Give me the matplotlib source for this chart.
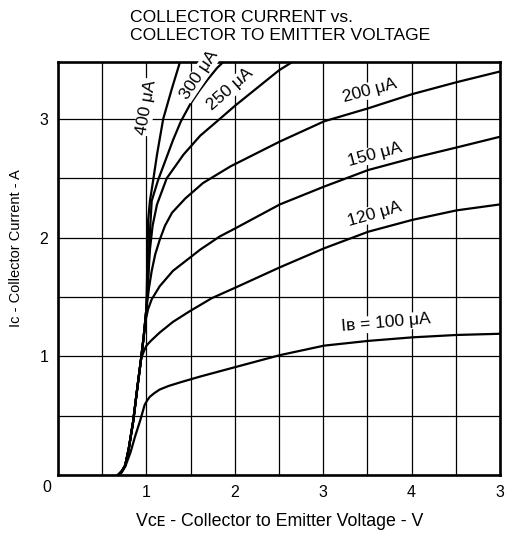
import numpy as np
import matplotlib
matplotlib.use("Agg")
import matplotlib.pyplot as plt

plt.rcParams['font.family'] = ['Liberation Sans', 'DejaVu Sans']

# collector current curves (Vce in V, Ic in A)
vce_100 = [0.68, 0.72, 0.76, 0.82, 0.87, 0.93, 0.98, 1.01, 1.04, 1.09, 1.15,
           1.25, 1.38, 1.61, 2.01, 2.51, 3.01, 3.51, 4.01, 4.51, 5.0]
ic_100 = [0.0, 0.02, 0.07, 0.19, 0.32, 0.46, 0.59, 0.63, 0.66, 0.69, 0.72,
          0.75, 0.78, 0.83, 0.91, 1.01, 1.09, 1.13, 1.16, 1.18, 1.19]

vce_120 = [0.68, 0.72, 0.76, 0.80, 0.85, 0.90, 0.94, 0.97, 1.00, 1.05, 1.15,
           1.30, 1.49, 1.74, 2.01, 2.51, 3.01, 3.51, 4.01, 4.51, 5.0]
ic_120 = [0.0, 0.03, 0.08, 0.22, 0.45, 0.75, 0.98, 1.04, 1.09, 1.13, 1.20,
          1.29, 1.38, 1.49, 1.58, 1.75, 1.91, 2.05, 2.15, 2.23, 2.28]

vce_150 = [0.68, 0.72, 0.76, 0.80, 0.85, 0.90, 0.94, 0.97, 0.99, 1.02, 1.06,
           1.15, 1.30, 1.49, 1.61, 1.83, 2.01, 2.51, 3.01, 3.51, 4.01, 4.51,
           5.0]
ic_150 = [0.0, 0.03, 0.08, 0.22, 0.45, 0.75, 0.98, 1.17, 1.30, 1.40, 1.48,
          1.59, 1.72, 1.83, 1.90, 2.01, 2.08, 2.28, 2.43, 2.57, 2.67, 2.76,
          2.85]

vce_200 = [0.68, 0.72, 0.76, 0.80, 0.85, 0.90, 0.94, 0.97, 1.00, 1.03, 1.06,
           1.10, 1.15, 1.21, 1.29, 1.44, 1.64, 1.95, 2.51, 3.01, 3.51, 4.01,
           4.51, 5.0]
ic_200 = [0.0, 0.03, 0.08, 0.22, 0.45, 0.75, 0.98, 1.17, 1.40, 1.58, 1.72,
          1.86, 1.98, 2.10, 2.21, 2.33, 2.46, 2.60, 2.81, 2.98, 3.09, 3.21,
          3.31, 3.40]

vce_250 = [0.68, 0.72, 0.76, 0.80, 0.85, 0.90, 0.94, 0.97, 1.00, 1.02, 1.04,
           1.07, 1.12, 1.23, 1.42, 1.61, 1.83, 2.0, 2.5, 2.65]
ic_250 = [0.0, 0.03, 0.08, 0.22, 0.45, 0.75, 0.98, 1.17, 1.40, 1.65, 1.90,
          2.10, 2.28, 2.50, 2.70, 2.86, 3.0, 3.11, 3.41, 3.48]

vce_300 = [0.68, 0.72, 0.76, 0.80, 0.85, 0.90, 0.94, 0.97, 1.00, 1.02, 1.04,
           1.06, 1.13, 1.23, 1.30, 1.39, 1.50, 1.60, 1.69, 1.80, 1.87]
ic_300 = [0.0, 0.03, 0.08, 0.22, 0.45, 0.75, 0.98, 1.17, 1.40, 1.70, 2.05,
          2.31, 2.48, 2.68, 2.82, 2.98, 3.13, 3.24, 3.33, 3.43, 3.48]

vce_400 = [0.68, 0.72, 0.76, 0.80, 0.85, 0.90, 0.94, 0.97, 1.00, 1.01, 1.02,
           1.04, 1.08, 1.12, 1.19, 1.29, 1.38]
ic_400 = [0.0, 0.03, 0.08, 0.22, 0.45, 0.75, 0.98, 1.17, 1.40, 1.75, 2.15,
          2.31, 2.50, 2.70, 3.0, 3.26, 3.48]

curves = [(vce_100, ic_100), (vce_120, ic_120), (vce_150, ic_150),
          (vce_200, ic_200), (vce_250, ic_250), (vce_300, ic_300),
          (vce_400, ic_400)]

# curve labels: text, position (V, A), rotation
labels = [("I\u0299 = 100 \u03bcA", 3.71, 1.28, 5),
          ("120 \u03bcA", 3.58, 2.20, 16),
          ("150 \u03bcA", 3.58, 2.70, 15),
          ("200 \u03bcA", 3.53, 3.24, 15),
          ("250 \u03bcA", 1.95, 3.25, 41),
          ("300 \u03bcA", 1.60, 3.37, 56),
          ("400 \u03bcA", 1.00, 3.10, 80)]

x_ticks = [0, 0.5, 1, 1.5, 2, 2.5, 3, 3.5, 4, 4.5, 5]
x_ticklabels = ["", "", "1", "", "2", "", "3", "", "4", "", "3"]
y_ticks = [0, 0.5, 1, 1.5, 2, 2.5, 3]
y_ticklabels = ["", "", "1", "", "2", "", "3"]

fig = plt.figure(figsize=(5.05, 5.33), dpi=100)
ax = fig.add_axes([58 / 505, 1 - 475 / 533, 442 / 505, 413 / 533])

ax.set_xlim(0, 5)
ax.set_ylim(0, 3.48)
ax.set_xticks(x_ticks)
ax.set_xticklabels(x_ticklabels)
ax.set_yticks(y_ticks)
ax.set_yticklabels(y_ticklabels)
ax.tick_params(length=0, labelsize=11.5, pad=7)
ax.grid(True, color="black", lw=0.9)
ax.set_axisbelow(True)
for s in ax.spines.values():
    s.set_linewidth(1.9)

for vce, ic in curves:
    ax.plot(vce, ic, color="black", lw=1.6, solid_joinstyle="round")

for txt, x, y, rot in labels:
    ax.text(x, y, txt, fontsize=12.5, rotation=rot, ha="center", va="center",
            rotation_mode="anchor", clip_on=False,
            bbox=dict(boxstyle="square,pad=0.05", fc="white", ec="none"))

# corner zero label
ax.text(-0.13, -0.045, "0", fontsize=11.5, ha="center", va="top")

fig.text(280 / 505, 1 - 522 / 533,
         "V\u1d04\u1d07 - Collector to Emitter Voltage - V", fontsize=12.8,
         ha="center", va="center")
fig.text(16 / 505, 1 - 248 / 533, "I\u1d04 - Collector Current - A",
         fontsize=10.5, rotation=90, ha="center", va="center")

fig.text(130 / 505, 1 - 17 / 533, "COLLECTOR CURRENT vs.", fontsize=12.6,
         ha="left", va="center")
fig.text(130 / 505, 1 - 36 / 533, "COLLECTOR TO EMITTER VOLTAGE", fontsize=12.6,
         ha="left", va="center")

fig.savefig("out.png", dpi=100)
